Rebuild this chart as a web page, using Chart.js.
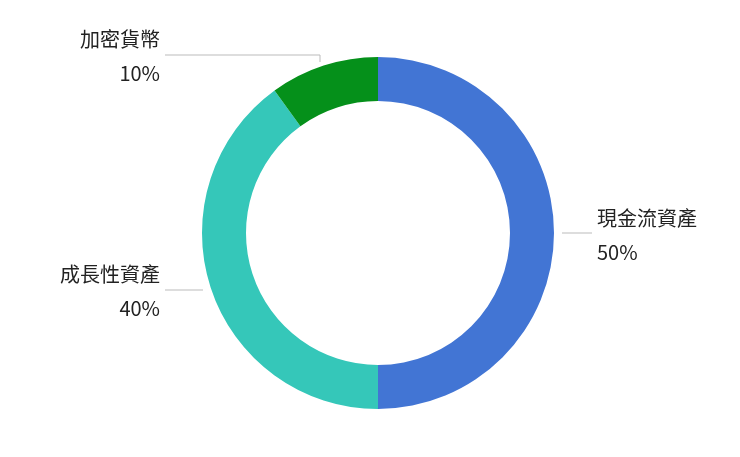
<!DOCTYPE html>
<html><head><meta charset="utf-8">
<script src="https://cdn.jsdelivr.net/npm/chart.js@4"></script>
<style>body{margin:0;background:#fff}#wrap{width:740px;height:457px}</style>
</head><body><div id="wrap"><canvas id="c"></canvas></div>
<script>
// data
const labels = ['現金流資產', '成長性資產', '加密貨幣']
const values = [50, 40, 10]
const colors = ['#4275D4', '#35C7B9', '#05901A']

// labels with leader lines, placed next to each arc
const leaderLabels = {
  id: 'leaderLabels',
  afterDraw(chart) {
    const ctx = chart.ctx
    const arcs = chart.getDatasetMeta(0).data
    const total = values.reduce((a, b) => a + b, 0)
    ctx.save()
    ctx.font = '20px "Noto Sans CJK TC", "Noto Sans", sans-serif'
    ctx.fillStyle = '#222'
    ctx.strokeStyle = '#bbb'
    ctx.lineWidth = 1
    arcs.forEach((arc, i) => {
      const cx = arc.x, cy = arc.y, r = arc.outerRadius
      const pct = Math.round(values[i] / total * 100) + '%'
      ctx.beginPath()
      if (i == 0) {
        ctx.moveTo(cx + r + 8, cy); ctx.lineTo(cx + r + 38, cy); ctx.stroke()
        ctx.textAlign = 'left'
        ctx.fillText(labels[i], cx + r + 43, cy - 7)
        ctx.fillText(pct, cx + r + 43, cy + 27)
      } else if (i == 1) {
        ctx.moveTo(cx - r + 1, cy + 57); ctx.lineTo(cx - r - 37, cy + 57); ctx.stroke()
        ctx.textAlign = 'right'
        ctx.fillText(labels[i], cx - r - 42, cy + 49)
        ctx.fillText(pct, cx - r - 42, cy + 83)
      } else {
        ctx.moveTo(cx - 58, cy - r + 5); ctx.lineTo(cx - 58, cy - r - 2); ctx.lineTo(cx - 213, cy - r - 2); ctx.stroke()
        ctx.textAlign = 'right'
        ctx.fillText(labels[i], cx - 218, cy - r - 10)
        ctx.fillText(pct, cx - 218, cy - r + 24)
      }
    })
    ctx.restore()
  }
}

new Chart(document.getElementById('c'), {
  type: 'doughnut',
  data: {
    labels: labels,
    datasets: [{ data: values, backgroundColor: colors, borderWidth: 0 }]
  },
  options: {
    responsive: true,
    maintainAspectRatio: false,
    animation: false,
    cutout: '75%',
    layout: { padding: { left: 202, right: 186, top: 57, bottom: 48 } },
    plugins: { legend: { display: false }, tooltip: { enabled: false } }
  },
  plugins: [leaderLabels]
})
</script></body></html>
